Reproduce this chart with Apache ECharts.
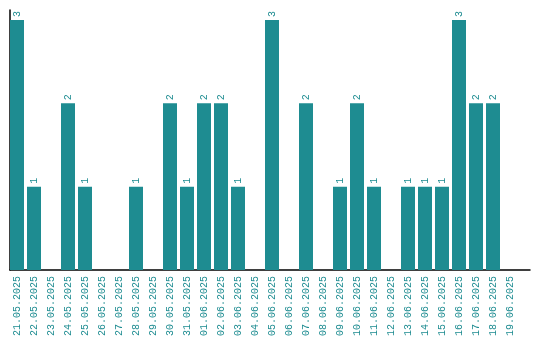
<!DOCTYPE html>
<html><head><meta charset="utf-8">
<script src="https://cdn.jsdelivr.net/npm/echarts@6/dist/echarts.min.js"></script>
<style>html,body{margin:0;padding:0;background:#fff}#c{width:540px;height:340px}</style>
</head><body><div id="c"></div>
<script>
const categories = ["21.05.2025","22.05.2025","23.05.2025","24.05.2025","25.05.2025","26.05.2025","27.05.2025","28.05.2025","29.05.2025","30.05.2025","31.05.2025","01.06.2025","02.06.2025","03.06.2025","04.06.2025","05.06.2025","06.06.2025","07.06.2025","08.06.2025","09.06.2025","10.06.2025","11.06.2025","12.06.2025","13.06.2025","14.06.2025","15.06.2025","16.06.2025","17.06.2025","18.06.2025","19.06.2025"];
const values = [3,1,0,2,1,0,0,1,0,2,1,2,2,1,0,3,0,2,0,1,2,1,0,1,1,1,3,2,2,0];
const color = '#1e8c91';
const idx = categories.map((c,i)=>i);
const chart = echarts.init(document.getElementById('c'));
chart.setOption({
  animation:false,
  grid:{left:10,right:10,top:10,bottom:70},
  xAxis:{type:'value',min:-7/17,max:513/17,splitLine:{show:false},
    axisLine:{show:true,onZero:false,lineStyle:{color:'#000',width:1.5}},
    axisTick:{show:false},
    axisLabel:{customValues:idx,rotate:90,color:color,fontFamily:'Liberation Mono',fontSize:10,margin:6,
      formatter:v=>categories[Math.round(v)]||''}},
  yAxis:{type:'value',min:0,max:3.12,splitLine:{show:false},axisLabel:{show:false},axisTick:{show:false},
    axisLine:{show:true,onZero:false,lineStyle:{color:'#000',width:1.5}}},
  series:[{type:'bar',data:values.map((v,i)=>[i,v]),barWidth:14,itemStyle:{color:color},
    label:{show:true,position:'top',rotate:90,align:'left',verticalAlign:'middle',distance:3,
      color:color,fontFamily:'Liberation Mono',fontSize:10,
      formatter:p=>p.value[1]>0?p.value[1]:''}}]
});
</script></body></html>
